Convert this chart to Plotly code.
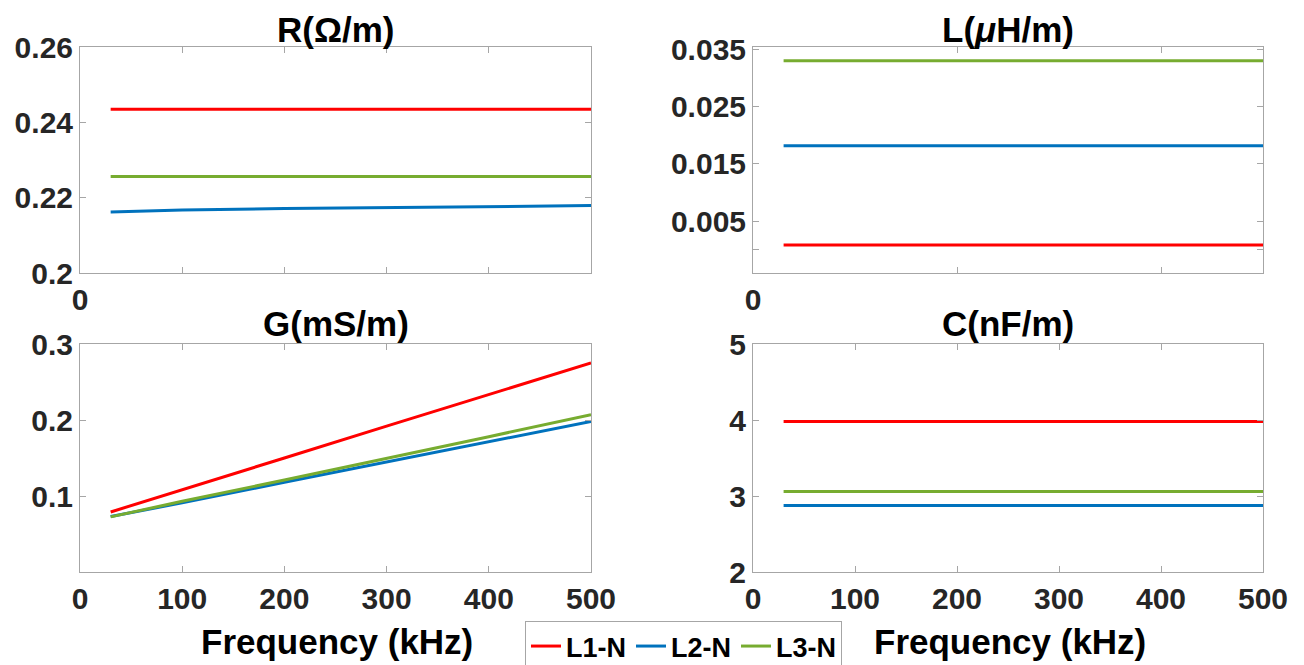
import plotly.graph_objects as go

freq = [30, 100, 200, 300, 400, 500]
series = ["L1-N", "L2-N", "L3-N"]
colors = ["#FF0000", "#0072BD", "#77AC30"]

R_L1 = [0.2435, 0.2435, 0.2435, 0.2435, 0.2435, 0.2435]
R_L2 = [0.2162, 0.2167, 0.2171, 0.2174, 0.2177, 0.2179]
R_L3 = [0.2256, 0.2256, 0.2256, 0.2256, 0.2256, 0.2256]

L_L1 = [0.0008, 0.0008, 0.0008, 0.0008, 0.0008, 0.0008]
L_L2 = [0.0182, 0.0182, 0.0182, 0.0182, 0.0182, 0.0182]
L_L3 = [0.0331, 0.0331, 0.0331, 0.0331, 0.0331, 0.0331]

G_L1 = [0.079, 0.108, 0.150, 0.192, 0.233, 0.275]
G_L2 = [0.073, 0.091, 0.118, 0.145, 0.172, 0.198]
G_L3 = [0.0725, 0.093, 0.121, 0.149, 0.178, 0.207]

C_L1 = [3.98, 3.98, 3.98, 3.98, 3.98, 3.98]
C_L2 = [2.876, 2.876, 2.876, 2.876, 2.876, 2.876]
C_L3 = [3.06, 3.06, 3.06, 3.06, 3.06, 3.06]

titles = ["R(Ω/m)", "L(<i>μ</i>H/m)", "G(mS/m)", "C(nF/m)"]
xlabel = "Frequency (kHz)"

W, H = 1304, 665
FONT = "Liberation Sans, Arial, Helvetica, sans-serif"
AX = "#a6a6a6"
TXT = "#262626"

def fx(p):
    return p / W

def fy(p):
    return 1 - p / H

fig = go.Figure()

panels = [
    ("x", "y", [R_L1, R_L2, R_L3]),
    ("x2", "y2", [L_L1, L_L2, L_L3]),
    ("x3", "y3", [G_L1, G_L2, G_L3]),
    ("x4", "y4", [C_L1, C_L2, C_L3]),
]
for pi, (xa, ya, data) in enumerate(panels):
    for si, vals in enumerate(data):
        fig.add_trace(go.Scatter(
            x=freq, y=vals, mode="lines", name=series[si],
            line=dict(color=colors[si], width=3),
            xaxis=xa, yaxis=ya, showlegend=(pi == 0),
        ))

tickfont = dict(family=FONT, size=30, color=TXT, weight="bold")
common_x = dict(range=[0, 500], showline=True, linecolor=AX, linewidth=1, mirror="ticks",
                ticks="inside", ticklen=6, tickcolor=AX, showgrid=False, zeroline=False,
                tickfont=tickfont, automargin=False)
common_y = dict(showline=True, linecolor=AX, linewidth=1, mirror="ticks",
                ticks="inside", ticklen=6, tickcolor=AX, showgrid=False, zeroline=False,
                tickfont=tickfont, automargin=False)

xl, xr = [fx(80), fx(591)], [fx(753), fx(1263)]
yt, yb = [fy(273), fy(47)], [fy(572), fy(344)]

fig.update_layout(
    width=W, height=H, margin=dict(l=0, r=0, t=0, b=0, autoexpand=False),
    paper_bgcolor="white", plot_bgcolor="white",
    font=dict(family=FONT, color=TXT),
    xaxis=dict(common_x, domain=xl, anchor="y",
               tickvals=[0, 100, 200, 300, 400, 500], ticktext=["0", "", "", "", "", ""]),
    yaxis=dict(common_y, domain=yt, anchor="x", range=[0.2, 0.26],
               tickvals=[0.2, 0.22, 0.24, 0.26], ticktext=["0.2", "0.22", "0.24", "0.26"]),
    xaxis2=dict(common_x, domain=xr, anchor="y2",
                tickvals=[0, 200, 400], ticktext=["0", "", ""]),
    yaxis2=dict(common_y, domain=yt, anchor="x2", range=[-0.0041, 0.0355],
                tickvals=[0, 0.005, 0.015, 0.025, 0.035],
                ticktext=["", "0.005", "0.015", "0.025", "0.035"]),
    xaxis3=dict(common_x, domain=xl, anchor="y3",
                tickvals=[0, 100, 200, 300, 400, 500]),
    yaxis3=dict(common_y, domain=yb, anchor="x3", range=[0, 0.3],
                tickvals=[0.1, 0.2, 0.3], ticktext=["0.1", "0.2", "0.3"]),
    xaxis4=dict(common_x, domain=xr, anchor="y4",
                tickvals=[0, 100, 200, 300, 400, 500]),
    yaxis4=dict(common_y, domain=yb, anchor="x4", range=[2, 5],
                tickvals=[2, 3, 4, 5]),
    legend=dict(orientation="h", x=fx(525), y=fy(621), xanchor="left", yanchor="top",
                bordercolor=AX, borderwidth=1, bgcolor="white",
                font=dict(family=FONT, size=27, color="black", weight="bold"),
                itemwidth=30, tracegroupgap=0),
)

title_font = dict(family=FONT, size=35, color="black", weight="bold")
title_pos = [((80 + 591) / 2, 29), ((753 + 1263) / 2, 29), ((80 + 591) / 2, 324), ((753 + 1263) / 2, 324)]
for t, (cx, cy) in zip(titles, title_pos):
    fig.add_annotation(text=t, x=fx(cx), y=fy(cy), xref="paper", yref="paper",
                       showarrow=False, font=title_font, xanchor="center", yanchor="middle")
for cx in [(80 + 591) / 2 + 2, (753 + 1263) / 2 + 2]:
    fig.add_annotation(text=xlabel, x=fx(cx), y=fy(641), xref="paper", yref="paper",
                       showarrow=False, font=title_font, xanchor="center", yanchor="middle")

fig.write_html(
    "out.html",
    config={"displayModeBar": False},
    post_script="document.body.style.margin='0';document.documentElement.style.overflow='hidden';document.body.style.overflow='hidden';",
)
